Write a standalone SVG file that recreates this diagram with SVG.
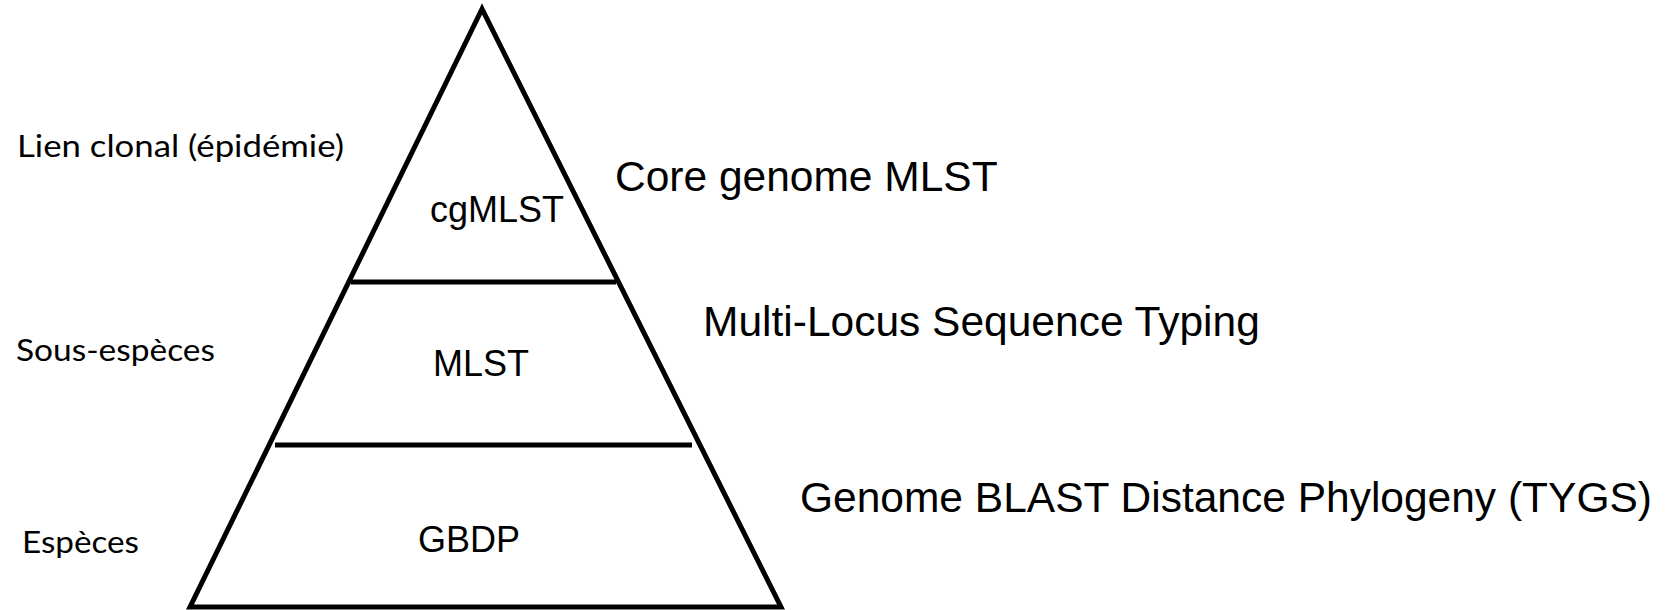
<svg xmlns="http://www.w3.org/2000/svg" width="1670" height="610" viewBox="0 0 1670 610">
<style>
.lvl{font-family:Lato,"Open Sans",sans-serif;font-size:31px;fill:#000}
.mid{font-family:"Liberation Sans",Arial,sans-serif;font-size:36px;fill:#000}
.rt{font-family:"Liberation Sans",Arial,sans-serif;font-size:42.5px;fill:#000}
.edge{stroke:#000;stroke-width:5;fill:none}
</style>
<rect width="1670" height="610" fill="#fff"/>
<g id="pyramid">
<polygon class="edge" points="482,9 190,607 781,607" stroke-linejoin="miter"/>
</g>
<g id="connectors">
<line class="edge" x1="351" y1="282" x2="616" y2="282" stroke-width="6"/>
<line class="edge" x1="275" y1="445" x2="692" y2="445" stroke-width="6"/>
</g>
<g id="level-clonal"><text class="lvl" x="17" y="157" textLength="327" lengthAdjust="spacingAndGlyphs">Lien clonal (épidémie)</text></g>
<g id="level-subspecies"><text class="lvl" x="16" y="361" textLength="199" lengthAdjust="spacingAndGlyphs">Sous-espèces</text></g>
<g id="level-species"><text class="lvl" x="22" y="553" textLength="117" lengthAdjust="spacingAndGlyphs">Espèces</text></g>
<g id="node-cgmlst"><text class="mid" x="430" y="222">cgMLST</text></g>
<g id="node-mlst"><text class="mid" x="433" y="376">MLST</text></g>
<g id="node-gbdp"><text class="mid" x="418" y="552">GBDP</text></g>
<g id="label-cgmlst"><text class="rt" x="615" y="191">Core genome MLST</text></g>
<g id="label-mlst"><text class="rt" x="703" y="336">Multi-Locus Sequence Typing</text></g>
<g id="label-gbdp"><text class="rt" x="800" y="512">Genome BLAST Distance Phylogeny (TYGS)</text></g>
</svg>
